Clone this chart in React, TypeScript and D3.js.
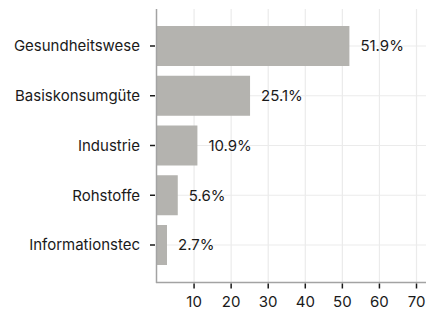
import { useEffect, useRef } from "react"
import * as d3 from "d3"

const categories = ["Gesundheitswese", "Basiskonsumgüte", "Industrie", "Rohstoffe", "Informationstec"]
const values = [51.9, 25.1, 10.9, 5.6, 2.7]
const xTicks = [10, 20, 30, 40, 50, 60, 70]

export default function App() {
  const svgRef = useRef<SVGSVGElement>(null)

  useEffect(() => {
    if (!svgRef.current) return
    const svg = d3.select(svgRef.current)
    svg.selectAll("*").remove()

    const width = 426
    const height = 315
    const left = 157
    const top = 9
    const bottom = 282.5
    const font = "Inter, 'Noto Sans', sans-serif"
    const fs = 15

    const x = d3.scaleLinear().domain([0, 70]).range([left, 416.5])
    const y = d3.scalePoint<string>().domain(categories).range([46, 245])
    const barH = 40

    svg.attr("width", width).attr("height", height)

    // grid
    const grid = svg.append("g")
    grid
      .selectAll(".gx")
      .data(xTicks)
      .enter()
      .append("line")
      .attr("x1", (d) => x(d))
      .attr("x2", (d) => x(d))
      .attr("y1", top)
      .attr("y2", bottom)
      .attr("stroke", "#ebebeb")
      .attr("stroke-width", 1.2)
    grid
      .selectAll(".gy")
      .data(categories)
      .enter()
      .append("line")
      .attr("x1", left)
      .attr("x2", width)
      .attr("y1", (d) => y(d)!)
      .attr("y2", (d) => y(d)!)
      .attr("stroke", "#ebebeb")
      .attr("stroke-width", 1.2)

    // bars
    svg
      .selectAll(".bar")
      .data(values)
      .enter()
      .append("rect")
      .attr("x", left)
      .attr("y", (d, i) => y(categories[i])! - barH / 2)
      .attr("width", (d) => x(d) - left)
      .attr("height", barH)
      .attr("fill", "#b4b3af")

    // value labels
    svg
      .selectAll(".label")
      .data(values)
      .enter()
      .append("text")
      .attr("x", (d) => x(d) + 11)
      .attr("y", (d, i) => y(categories[i])!)
      .attr("dy", "0.35em")
      .attr("font-family", font)
      .attr("font-size", fs)
      .attr("fill", "#1a1a1a")
      .text((d) => `${d.toFixed(1)}%`)

    // axis lines
    svg
      .append("line")
      .attr("x1", left - 0.5)
      .attr("x2", left - 0.5)
      .attr("y1", top)
      .attr("y2", bottom + 0.5)
      .attr("stroke", "#a3a3a3")
      .attr("stroke-width", 1.5)
    svg
      .append("line")
      .attr("x1", left - 1)
      .attr("x2", width)
      .attr("y1", bottom)
      .attr("y2", bottom)
      .attr("stroke", "#a3a3a3")
      .attr("stroke-width", 1.5)

    // y ticks and labels
    const yAxis = svg.append("g")
    categories.forEach((c) => {
      yAxis
        .append("line")
        .attr("x1", left - 7)
        .attr("x2", left - 2)
        .attr("y1", y(c)!)
        .attr("y2", y(c)!)
        .attr("stroke", "#1a1a1a")
        .attr("stroke-width", 1.5)
      yAxis
        .append("text")
        .attr("x", left - 17)
        .attr("y", y(c)!)
        .attr("dy", "0.35em")
        .attr("text-anchor", "end")
        .attr("font-family", font)
        .attr("font-size", fs)
        .attr("fill", "#1a1a1a")
        .text(c)
    })

    // x ticks and labels
    const xAxis = svg.append("g")
    xTicks.forEach((t) => {
      xAxis
        .append("line")
        .attr("x1", x(t))
        .attr("x2", x(t))
        .attr("y1", bottom + 1)
        .attr("y2", bottom + 6)
        .attr("stroke", "#1a1a1a")
        .attr("stroke-width", 1.5)
      xAxis
        .append("text")
        .attr("x", x(t))
        .attr("y", bottom + 19)
        .attr("dy", "0.35em")
        .attr("text-anchor", "middle")
        .attr("font-family", font)
        .attr("font-size", fs)
        .attr("fill", "#1a1a1a")
        .text(t)
    })
  }, [])

  return (
    <div style={{ position: "absolute", left: 0, top: 0 }}>
      <svg ref={svgRef} style={{ display: "block" }}></svg>
    </div>
  )
}
